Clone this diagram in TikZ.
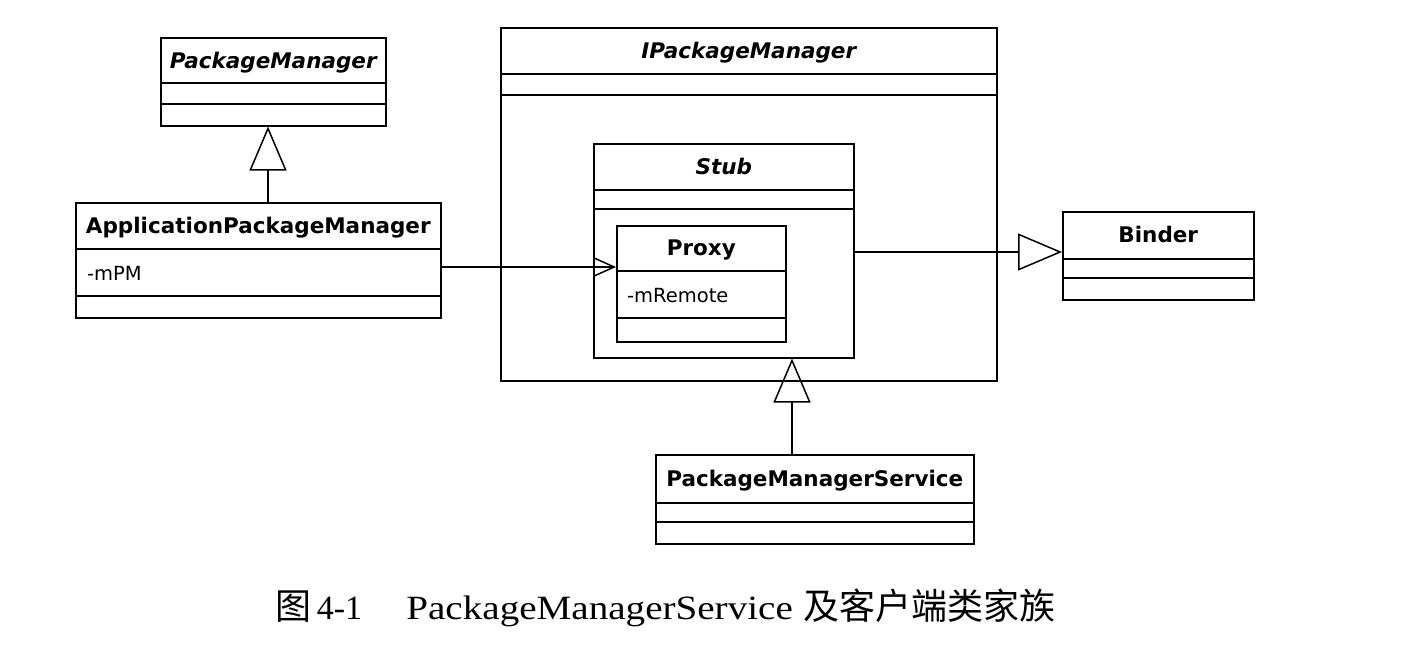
\documentclass[tikz,border=0pt]{standalone}
\usepackage{fontspec}
\setmainfont{Liberation Serif}
\setsansfont{DejaVu Sans}
\newfontfamily\cjk{Noto Sans CJK SC}
\usetikzlibrary{arrows.meta}
\tikzset{
  cls/.style={draw, line width=1.5pt, rectangle, inner sep=0pt, anchor=north west},
  ttl/.style={font=\sffamily\bfseries\fontsize{21.5}{24}\selectfont, inner sep=0pt, anchor=base},
  ttli/.style={font=\sffamily\bfseries\itshape\fontsize{21.5}{24}\selectfont, inner sep=0pt, anchor=base},
  attr/.style={font=\sffamily\fontsize{19.5}{22}\selectfont, inner sep=0pt, anchor=base west},
  div/.style={line width=1.5pt},
  gen/.style={line width=1.5pt, -{Triangle[open, length=44pt, width=37pt]}},
  dep/.style={line width=1.5pt, -{Straight Barb[length=20pt, width=18pt]}},
}
\begin{document}
\begin{tikzpicture}[x=1pt, y=-1pt]
\fill[white] (0,0) rectangle (1402,664);
\useasboundingbox (0,0) rectangle (1402,664);

% PackageManager
\node[cls, minimum width=225pt, minimum height=88pt] (pm) at (160,37) {};
\draw[div] (pm.west |- 0,83) -- (pm.east |- 0,83);
\draw[div] (pm.west |- 0,104) -- (pm.east |- 0,104);
\node[ttli] (pmT) at (pm.north |- 0,68) {PackageManager};

% ApplicationPackageManager
\node[cls, minimum width=365pt, minimum height=115pt] (apm) at (75,202) {};
\draw[div] (apm.west |- 0,249) -- (apm.east |- 0,249);
\draw[div] (apm.west |- 0,296) -- (apm.east |- 0,296);
\node[ttl] (apmT) at (apm.north |- 0,233) {ApplicationPackageManager};
\node[attr] (apmA) at (87,280) {-mPM};

% IPackageManager
\node[cls, minimum width=496pt, minimum height=353pt] (ipm) at (500,27) {};
\draw[div] (ipm.west |- 0,74) -- (ipm.east |- 0,74);
\draw[div] (ipm.west |- 0,95) -- (ipm.east |- 0,95);
\node[ttli] (ipmT) at (ipm.north |- 0,58) {IPackageManager};

% Stub
\node[cls, minimum width=260pt, minimum height=214pt] (stub) at (593,143) {};
\draw[div] (stub.west |- 0,190) -- (stub.east |- 0,190);
\draw[div] (stub.west |- 0,209) -- (stub.east |- 0,209);
\node[ttli] (stubT) at (stub.north |- 0,174) {Stub};

% Proxy
\node[cls, minimum width=169pt, minimum height=116pt] (proxy) at (616,225) {};
\draw[div] (proxy.west |- 0,271) -- (proxy.east |- 0,271);
\draw[div] (proxy.west |- 0,318) -- (proxy.east |- 0,318);
\node[ttl] (proxyT) at (proxy.north |- 0,255.5) {Proxy};
\node[attr] (proxyA) at (627,302) {-mRemote};

% Binder
\node[cls, minimum width=191pt, minimum height=88pt] (binder) at (1062,211) {};
\draw[div] (binder.west |- 0,259) -- (binder.east |- 0,259);
\draw[div] (binder.west |- 0,278) -- (binder.east |- 0,278);
\node[ttl] (binderT) at (binder.north |- 0,242.5) {Binder};

% PackageManagerService
\node[cls, minimum width=318pt, minimum height=89pt] (pms) at (655,454) {};
\draw[div] (pms.west |- 0,503) -- (pms.east |- 0,503);
\draw[div] (pms.west |- 0,522) -- (pms.east |- 0,522);
\node[ttl] (pmsT) at (pms.north |- 0,486) {PackageManagerService};

% connectors
\draw[gen] (apm.north -| 268,0) -- (pm.south -| 268,0);
\draw[gen] (pms.north -| 792,0) -- (stub.south -| 792,0);
\draw[gen] (stub.east |- 0,252) -- (binder.west |- 0,252);
\draw[dep] (apm.east |- 0,267) -- (proxy.west |- 0,267);

% caption
\node[font=\fontsize{34}{40}\selectfont, anchor=base west, inner sep=0pt] (cap) at (275,619)
  {{\cjk\fontsize{36}{40}\selectfont 图}\,4-1\hspace{1.3em}\scalebox{1.15}[1]{PackageManagerService}\hspace{0.3em}{\cjk\fontsize{36}{40}\selectfont 及客户端类家族}};
\end{tikzpicture}
\end{document}
